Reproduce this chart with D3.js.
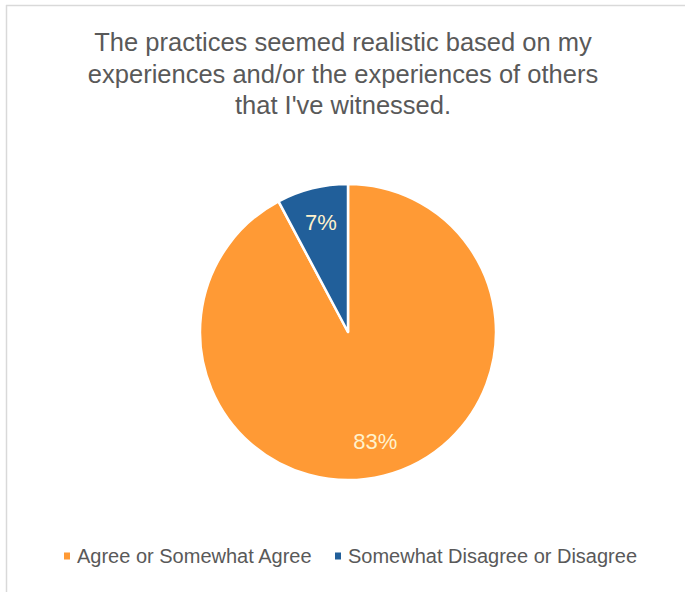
<!DOCTYPE html>
<html>
<head>
<meta charset="utf-8">
<script src="https://cdn.jsdelivr.net/npm/d3@7"></script>
<style>
  html, body { margin: 0; padding: 0; background: #fff; }
  svg { display: block; }
</style>
</head>
<body>
<svg id="chart" width="685" height="592"></svg>
<script>
// Survey responses
const categories = ["Agree or Somewhat Agree", "Somewhat Disagree or Disagree"];
const values = [83, 7];
const valueLabels = ["83%", "7%"];
const colors = ["#FF9A35", "#215F9A"];
const titleLines = [
  "The practices seemed realistic based on my",
  "experiences and/or the experiences of others",
  "that I've witnessed."
];

const W = 685, H = 592;
const svg = d3.select("#chart");
const font = "'Liberation Sans', Arial, sans-serif";
const textGray = "#595959";

// Chart area frame
svg.append("line").attr("x1", 6).attr("x2", W).attr("y1", 5.5).attr("y2", 5.5)
  .attr("stroke", "#d9d9d9").attr("stroke-width", 1.5);
svg.append("line").attr("x1", 6.5).attr("x2", 6.5).attr("y1", 5).attr("y2", H)
  .attr("stroke", "#d9d9d9").attr("stroke-width", 1.5);

// Title
const title = svg.append("text")
  .attr("text-anchor", "middle")
  .attr("font-family", font)
  .attr("font-size", 25.5)
  .attr("fill", textGray);
title.selectAll("tspan").data(titleLines).join("tspan")
  .attr("x", 343)
  .attr("y", (d, i) => 51 + i * 31.5)
  .text(d => d);

// Pie
const cx = 348, cy = 332, r = 148;
const pie = d3.pie().sort(null).value(d => d);
const arcs = pie(values);
const arc = d3.arc().innerRadius(0).outerRadius(r);
const labelArc = d3.arc().innerRadius(r * 0.76).outerRadius(r * 0.76);

const g = svg.append("g").attr("transform", `translate(${cx},${cy})`);
g.selectAll("path.slice").data(arcs).join("path")
  .attr("class", "slice")
  .attr("d", arc)
  .attr("fill", (d, i) => colors[i])
  .attr("stroke", "#fff")
  .attr("stroke-width", 2.5)
  .attr("stroke-linejoin", "round");

g.selectAll("text.val").data(arcs).join("text")
  .attr("class", "val")
  .attr("transform", d => `translate(${labelArc.centroid(d)})`)
  .attr("text-anchor", "middle")
  .attr("dominant-baseline", "central")
  .attr("font-family", font)
  .attr("font-size", 22)
  .attr("fill", "#FFF2CC")
  .text((d, i) => valueLabels[i]);

// Legend
const legend = svg.append("g").attr("font-family", font).attr("font-size", 20).attr("fill", textGray);
const legendX = [64, 335];
categories.forEach((c, i) => {
  const lg = legend.append("g").attr("transform", `translate(${legendX[i]},556)`);
  lg.append("rect").attr("x", 0).attr("y", -3.5).attr("width", 6).attr("height", 7).attr("fill", colors[i]);
  lg.append("text").attr("x", 13).attr("y", 0).attr("dominant-baseline", "central").text(c);
});
</script>
</body>
</html>
